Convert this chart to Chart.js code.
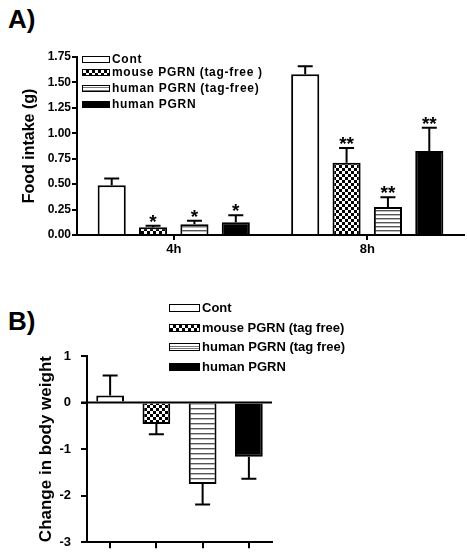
<!DOCTYPE html>
<html lang="en">
<head>
    <meta charset="UTF-8">
    <title>PGRN food intake and body weight</title>
    <script src="https://cdn.jsdelivr.net/npm/chart.js"></script>
    <style>
        body { margin: 0; background: #fff; font-family: "Liberation Sans", Arial, sans-serif; }
        #wrap { position: relative; width: 467px; height: 560px; overflow: hidden; }
        canvas { position: absolute; left: 0; }
        .panel { position: absolute; left: 8px; font-weight: bold; font-size: 26px; line-height: 26px; }
        .legend { position: absolute; font-weight: bold; }
        .legend .row { position: absolute; left: 0; height: 16px; line-height: 16px; white-space: nowrap; }
        .legend .box { position: absolute; left: 0; top: 4px; box-sizing: border-box; border: 1.5px solid #000; }
        .legend .label { position: absolute; top: 0; }
        .sw0 { background: #fff; }
        .sw1 { background: repeating-conic-gradient(#000 0 25%, #fff 0 50%) 0 0 / 6px 6px; }
        .sw2 { background: repeating-linear-gradient(to bottom, #fff 0 1.5px, #777 1.5px 2.5px); }
        .sw3 { background: #000; }
    </style>
</head>
<body>
<div id="wrap">
    <div class="panel" style="top:6px">A)</div>
    <div class="panel" style="top:308px">B)</div>
    <canvas id="chartA" width="467" height="270" style="top:0"></canvas>
    <canvas id="chartB" width="467" height="260" style="top:300px"></canvas>
    <div class="legend" id="legendA" style="left:82px; top:0; font-size:12px; letter-spacing:0.7px"></div>
    <div class="legend" id="legendB" style="left:169px; top:0; font-size:13px"></div>
</div>

<script>
    // panel A: food intake (g)
    const timePoints = ["4h", "8h"];
    const groupNamesA = ["Cont", "mouse PGRN (tag-free )", "human PGRN (tag-free)", "human PGRN"];
    const intakeCont = [0.49, 1.58];
    const intakeMouse = [0.075, 0.71];
    const intakeHumanTF = [0.105, 0.275];
    const intakeHuman = [0.125, 0.825];
    const intakeContSem = [0.065, 0.08];
    const intakeMouseSem = [0.015, 0.145];
    const intakeHumanTFSem = [0.035, 0.095];
    const intakeHumanSem = [0.07, 0.23];
    const marksCont = ["", ""];
    const marksMouse = ["*", "**"];
    const marksHumanTF = ["*", "**"];
    const marksHuman = ["*", "**"];
    const intakeTicks = [0, 0.25, 0.5, 0.75, 1.0, 1.25, 1.5, 1.75];

    // panel B: change in body weight
    const groupNamesB = ["Cont", "mouse PGRN (tag free)", "human PGRN (tag free)", "human PGRN"];
    const weightChange = [0.15, -0.46, -1.75, -1.165];
    const weightSem = [0.43, 0.22, 0.44, 0.47];
    const weightTicks = [-3, -2, -1, 0, 1];

    Chart.defaults.font.family = '"Liberation Sans", Arial, sans-serif';
    Chart.defaults.font.weight = "bold";
    Chart.defaults.color = "#000";

    function checker(ctx, cell) {
        let tile = document.createElement("canvas");
        tile.width = tile.height = cell * 2;
        let g = tile.getContext("2d");
        g.fillStyle = "#fff";
        g.fillRect(0, 0, cell * 2, cell * 2);
        g.fillStyle = "#000";
        g.fillRect(0, 0, cell, cell);
        g.fillRect(cell, cell, cell, cell);
        return ctx.createPattern(tile, "repeat");
    }

    function stripes(ctx, period) {
        let tile = document.createElement("canvas");
        tile.width = 4;
        tile.height = period;
        let g = tile.getContext("2d");
        g.fillStyle = "#fff";
        g.fillRect(0, 0, 4, period);
        g.fillStyle = "#555";
        g.fillRect(0, period - 2, 4, 1);
        g.fillStyle = "#bbb";
        g.fillRect(0, period - 1, 4, 1);
        return ctx.createPattern(tile, "repeat");
    }

    function buildLegend(id, names, rows, boxW, boxH, textX) {
        let el = document.getElementById(id);
        names.forEach((name, i) => {
            let row = document.createElement("div");
            row.className = "row";
            row.style.top = (rows[i] - 8) + "px";
            row.innerHTML = '<span class="box sw' + i + '" style="width:' + boxW + 'px;height:' + boxH +
                'px;top:' + (8 - boxH / 2) + 'px"></span><span class="label" style="left:' + textX + 'px">' + name + '</span>';
            el.appendChild(row);
        });
    }

    // error bars and significance marks from dataset values
    const errorBars = {
        id: "errorBars",
        afterDatasetsDraw(chart, args, opts) {
            let ctx = chart.ctx;
            let y = chart.scales.y;
            ctx.save();
            if (opts.zeroLine) {
                let y0 = y.getPixelForValue(0);
                ctx.strokeStyle = "#000";
                ctx.lineWidth = 2;
                ctx.beginPath();
                ctx.moveTo(chart.chartArea.left - 6, y0);
                ctx.lineTo(chart.chartArea.right, y0);
                ctx.stroke();
            }
            chart.data.datasets.forEach((ds, di) => {
                let meta = chart.getDatasetMeta(di);
                meta.data.forEach((bar, i) => {
                    let v = ds.data[i];
                    let end = v >= 0 ? v + ds.errors[i] : v - ds.errors[i];
                    let yEnd = y.getPixelForValue(end);
                    ctx.strokeStyle = "#000";
                    ctx.lineWidth = 2;
                    ctx.beginPath();
                    ctx.moveTo(bar.x, bar.y);
                    ctx.lineTo(bar.x, yEnd);
                    ctx.moveTo(bar.x - 7.5, yEnd);
                    ctx.lineTo(bar.x + 7.5, yEnd);
                    ctx.stroke();
                    if (ds.marks && ds.marks[i]) {
                        ctx.fillStyle = "#000";
                        ctx.font = 'bold 19px "Liberation Sans", Arial, sans-serif';
                        ctx.textAlign = "center";
                        ctx.textBaseline = "alphabetic";
                        ctx.fillText(ds.marks[i], bar.x, yEnd + 2);
                    }
                });
            });
            ctx.restore();
        }
    };

    let ctxA = document.getElementById("chartA").getContext("2d");
    let fillsA = ["#fff", checker(ctxA, 3), stripes(ctxA, 4), "#000"];
    let valuesA = [intakeCont, intakeMouse, intakeHumanTF, intakeHuman];
    let semsA = [intakeContSem, intakeMouseSem, intakeHumanTFSem, intakeHumanSem];
    let marksA = [marksCont, marksMouse, marksHumanTF, marksHuman];

    new Chart(ctxA, {
        type: "bar",
        data: {
            labels: timePoints,
            datasets: groupNamesA.map((name, i) => ({
                label: name,
                data: valuesA[i],
                errors: semsA[i],
                marks: marksA[i],
                backgroundColor: fillsA[i],
                borderColor: "#000",
                borderWidth: 2,
                borderSkipped: "start",
                barPercentage: 0.68,
                categoryPercentage: 0.855
            }))
        },
        options: {
            responsive: false,
            animation: false,
            layout: { padding: { left: 0, right: 3, top: 57, bottom: 10 } },
            plugins: { legend: { display: false }, tooltip: { enabled: false }, errorBars: {} },
            scales: {
                x: {
                    offset: true,
                    afterFit: (s) => { s.height = 25; },
                    grid: { drawOnChartArea: false, offset: false, tickLength: 5, color: "#000", lineWidth: 2 },
                    border: { color: "#000", width: 2, z: 1 },
                    ticks: { font: { size: 13, weight: "bold" }, padding: 2 }
                },
                y: {
                    min: 0,
                    max: 1.75,
                    afterFit: (s) => { s.width = 77; },
                    afterBuildTicks: (s) => { s.ticks = intakeTicks.map(v => ({ value: v })); },
                    grid: { drawOnChartArea: false, tickLength: 5, color: "#000", lineWidth: 2 },
                    border: { color: "#000", width: 2 },
                    ticks: { font: { size: 12, weight: "bold" }, padding: 1, callback: (v) => Number(v).toFixed(2) },
                    title: { display: true, text: "Food intake (g)", font: { size: 16, weight: "bold" }, padding: { top: 20, bottom: 0 } }
                }
            }
        },
        plugins: [errorBars]
    });

    let ctxB = document.getElementById("chartB").getContext("2d");
    let fillsB = ["#fff", checker(ctxB, 3), stripes(ctxB, 5), "#000"];

    new Chart(ctxB, {
        type: "bar",
        data: {
            labels: groupNamesB,
            datasets: [{
                data: weightChange,
                errors: weightSem,
                backgroundColor: fillsB,
                borderColor: "#000",
                borderWidth: 2,
                borderSkipped: "start",
                barPercentage: 0.6,
                categoryPercentage: 1
            }]
        },
        options: {
            responsive: false,
            animation: false,
            layout: { padding: { left: 0, right: 195, top: 56, bottom: 2 } },
            plugins: { legend: { display: false }, tooltip: { enabled: false }, errorBars: { zeroLine: true } },
            scales: {
                x: {
                    offset: true,
                    afterFit: (s) => { s.height = 10; },
                    grid: { drawOnChartArea: false, offset: false, tickLength: 6, color: "#000", lineWidth: 2 },
                    border: { color: "#000", width: 2 },
                    ticks: { display: false }
                },
                y: {
                    min: -3,
                    max: 1,
                    afterFit: (s) => { s.width = 87; },
                    afterBuildTicks: (s) => { s.ticks = weightTicks.map(v => ({ value: v })); },
                    grid: { drawOnChartArea: false, tickLength: 6, color: "#000", lineWidth: 2 },
                    border: { color: "#000", width: 2 },
                    ticks: { font: { size: 13, weight: "bold" }, padding: 10 },
                    title: { display: true, text: "Change in body weight", font: { size: 17, weight: "bold" }, padding: { top: 36, bottom: 0 } }
                }
            }
        },
        plugins: [errorBars]
    });

    buildLegend("legendA", groupNamesA, [59, 72, 88, 104], 28, 7, 30);
    buildLegend("legendB", groupNamesB, [308, 328, 347, 367], 31, 8, 33);
</script>
</body>
</html>
